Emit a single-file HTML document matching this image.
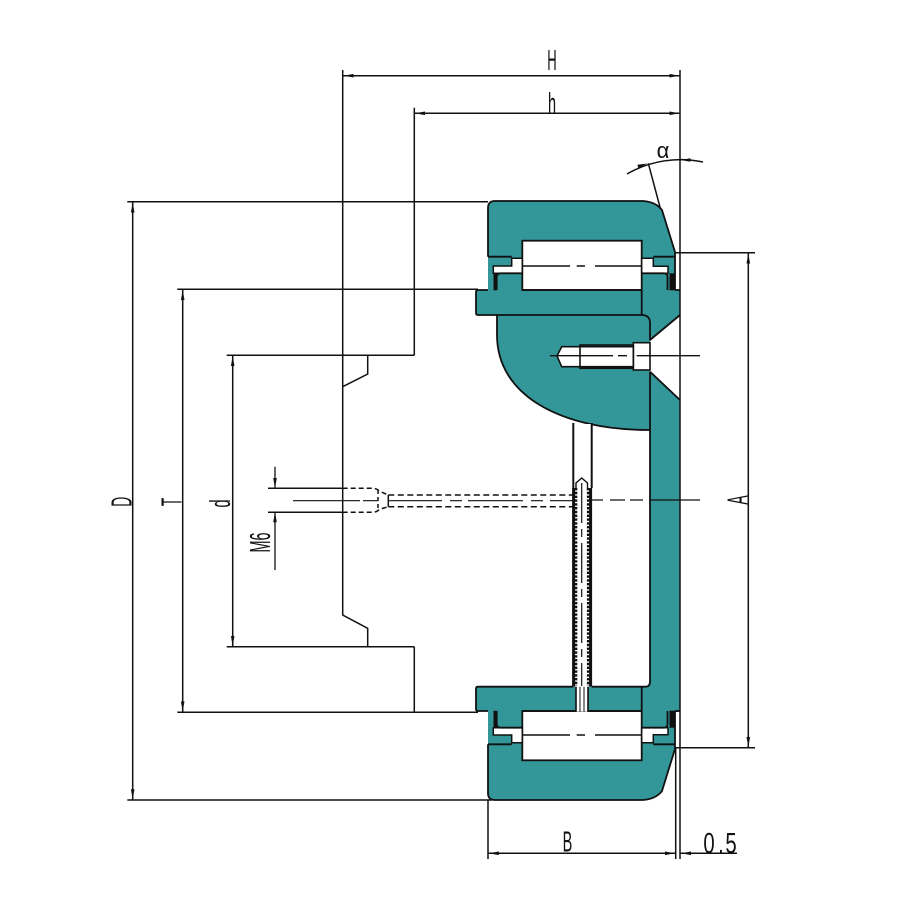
<!DOCTYPE html>
<html><head><meta charset="utf-8"><style>
html,body{margin:0;padding:0;background:#fff;}
svg{display:block}
text{font-family:"Liberation Sans",sans-serif;fill:#111}
</style></head><body>
<svg width="900" height="900" viewBox="0 0 900 900" xmlns="http://www.w3.org/2000/svg">
<rect width="900" height="900" fill="#fff"/>

<g fill="#339699" stroke="none">
  <path d="M495,201 L643,201 Q656,202 662,210 L675,252 L675,290 L680,290 L680,315 L478,315 Q476,315 476,313 L476,292 Q476,290 478,290 L488,290 L488,208 Q488,201 495,201 Z"/>
  <path transform="matrix(1 0 0 -1 0 1001)" d="M495,201 L643,201 Q656,202 662,210 L675,252 L675,290 L680,290 L680,315 L478,315 Q476,315 476,313 L476,292 Q476,290 478,290 L488,290 L488,208 Q488,201 495,201 Z"/>
  <path d="M497,315 L650,315 L650,430 C560,430 497,395 497,335 Z"/>
  <rect x="650" y="315" width="30" height="397"/>
</g>

<polygon points="650,340 680,315 680,400 650,371.7" fill="#fff"/>

<g>
  <g fill="#fff" stroke="#111" stroke-width="1.5">
    <rect x="522.3" y="240.7" width="119.4" height="49.3" stroke-width="1.8"/>
    <polygon points="511.7,258.3 522.3,258.3 522.3,273.3 493.3,273.3 493.3,266 511.7,266"/>
    <polygon points="641.7,258.3 653.3,258.3 653.3,266.3 668,266.3 668,273.3 641.7,273.3"/>
  </g>
  <rect x="493.5" y="273.3" width="3.2" height="17" fill="#111"/>
  <rect x="669.5" y="273.3" width="5.5" height="17" fill="#111"/>
  <g fill="none" stroke="#111" stroke-width="1.8">
    <path d="M488,256.7 L488,208 Q488,201 495,201 L643,201 Q656,202 662,210 L675,252 L675,290"/>
    <path d="M488,256.7 H511.7 M653.3,256.7 H675"/>
    <path d="M496.7,290 V277 Q496.7,273.3 500.5,273.3 H522.3 M641.7,273.3 H664 Q667.5,273.3 667.5,277 V290"/>
    <path d="M488,290 H478 Q476,290 476,292 V313"/>
    <path d="M675,290 H680 M641.7,290 V315"/>
    <path d="M522.3,290 H641.7"/>
  </g>
  <path d="M522.3,266 H570 M576.7,266 H585 M595,266 H641.7" stroke="#111" stroke-width="1.4" fill="none"/>
</g>
<g transform="matrix(1 0 0 -1 0 1001)">
  <g fill="#fff" stroke="#111" stroke-width="1.5">
    <rect x="522.3" y="240.7" width="119.4" height="49.3" stroke-width="1.8"/>
    <polygon points="511.7,258.3 522.3,258.3 522.3,273.3 493.3,273.3 493.3,266 511.7,266"/>
    <polygon points="641.7,258.3 653.3,258.3 653.3,266.3 668,266.3 668,273.3 641.7,273.3"/>
  </g>
  <rect x="493.5" y="273.3" width="3.2" height="17" fill="#111"/>
  <rect x="669.5" y="273.3" width="5.5" height="17" fill="#111"/>
  <g fill="none" stroke="#111" stroke-width="1.8">
    <path d="M488,256.7 L488,208 Q488,201 495,201 L643,201 Q656,202 662,210 L675,252 L675,290"/>
    <path d="M488,256.7 H511.7 M653.3,256.7 H675"/>
    <path d="M496.7,290 V277 Q496.7,273.3 500.5,273.3 H522.3 M641.7,273.3 H664 Q667.5,273.3 667.5,277 V290"/>
    <path d="M488,290 H478 Q476,290 476,292 V313"/>
    <path d="M675,290 H680 M641.7,290 V315"/>
    <path d="M522.3,290 H641.7"/>
  </g>
  <path d="M522.3,266 H570 M576.7,266 H585 M595,266 H641.7" stroke="#111" stroke-width="1.4" fill="none"/>
</g>

<g fill="none" stroke="#111" stroke-width="1.8" stroke-linejoin="round">
  <path d="M476,313 Q476,315 478,315 H641.7 Q650,315 650,323 V340 L680,315"/>
  <path d="M497,315 V335 C497,395 560,430 650,430"/>
  <path d="M650,371.7 L680,400 M650,371.7 V681.7 Q650,686.7 645,686.7 H591.7 M573.3,686.7 H478 Q476,686.7 476,688.7"/>
</g>

<g stroke="#111" stroke-width="1.6">
  <rect x="633.3" y="342.7" width="16.7" height="27.3" fill="#fff"/>
  <rect x="580" y="345" width="53.3" height="23.3" fill="#2a8c8e"/>
  <path d="M633.3,346.7 H561.7 L557,356 L561.7,366.7 H633.3 Z" fill="#fff"/>
  <path d="M580,346.7 V366.7" fill="none"/>
</g>
<path d="M550,355.7 H613 M618,355.7 H627 M636.7,355.7 H700" stroke="#111" stroke-width="1.3" fill="none"/>

<rect x="573.3" y="424" width="18.4" height="263" fill="#fff"/>
<rect x="576" y="686.7" width="12" height="25" fill="#fff"/>
<g fill="none" stroke="#111">
  <path d="M573.3,423 V488 M591.7,423 V488" stroke-width="2"/>
  <path d="M573.6,488 V686.7 M590.6,488 V686.7" stroke-width="3"/>
  <path d="M576,488 V686 M588.2,488 V686" stroke-width="2.6" stroke-dasharray="2.4,1.4"/>
  <path d="M576,490 V483 L581.7,478 L587.5,483 V490" stroke-width="1.4"/>
  <path d="M581.7,483 V686" stroke-width="1.2" stroke-dasharray="40,6,8,6"/>
  <path d="M576,686.7 V711.7 M588,686.7 V711.7" stroke-width="1.6"/>
  <path d="M580,686.7 V711.7 M584,686.7 V711.7" stroke-width="1"/>
</g>

<g fill="none" stroke="#111" stroke-width="1.5">
  <path d="M268,488.3 H342.7 M268,512.3 H342.7"/>
  <path d="M342.7,488.3 H372 Q377,488.3 379,491 L388.3,495 M342.7,512.3 H372 Q377,512.3 379,509.5 L388.3,506.7" stroke-dasharray="5,3"/>
  <path d="M378,490 V511" stroke-dasharray="4,3"/>
  <path d="M388.3,495 V506.7"/>
  <path d="M388.3,495 H573 M388.3,506.7 H573" stroke-dasharray="6,3.5"/>
  <path d="M293,500.7 H360 M363,500.7 H378 M388,500.7 H442 M450,500.7 H462 M468,500.7 H523 M531,500.7 H543 M550,500.7 H573" stroke-width="1.2"/>
  <path d="M592,500 H603 M610,500 H625 M630,500 H643 M650,500 H700" stroke-width="1.3"/>
  <path d="M275,466.7 V488 M275,512.3 V570" stroke-width="1.3"/>
</g>

<g fill="none" stroke="#111" stroke-width="1.5">
  <path d="M342.7,70 V615 L367.7,628.3 V646.7"/>
  <path d="M367.7,355.3 V374 L342.7,386.7"/>
  <path d="M414.3,107.7 V355.3 M414.3,646.7 V712.3"/>
  <path d="M127.3,201.7 H488 M177.3,289.3 H478 M226.7,355.3 H414.3 M226.7,646.7 H414.3 M177.3,712.3 H478 M127.3,800 H492"/>
  <path d="M680,70 V859 M675.7,747 V859 M488,800 V859"/>
  <path d="M675,252.7 H755 M675,747.7 H755 M748.3,253 V747.7"/>
  <path d="M342.7,75.7 H680 M414.3,113.3 H680"/>
  <path d="M132.7,201.7 V800 M182.7,289.3 V712.3 M232.7,355.3 V646.7"/>
  <path d="M488,853.3 H675.7 M680,853.3 H737"/>
  <path d="M648.3,163.3 L660.5,209"/>
  <path d="M627,174 A107,107 0 0 1 703,162"/>
</g>

<g fill="#111">
  <polygon points="343.5,75.7 353.5,73.9 353.5,77.5"/>
  <polygon points="679.5,75.7 669.5,73.9 669.5,77.5"/>
  <polygon points="415,113.3 425,111.5 425,115.1"/>
  <polygon points="679.5,113.3 669.5,111.5 669.5,115.1"/>
  <polygon points="132.7,202.5 130.9,212.5 134.5,212.5"/>
  <polygon points="132.7,799.2 130.9,789.2 134.5,789.2"/>
  <polygon points="182.7,290 180.9,300 184.5,300"/>
  <polygon points="182.7,711.5 180.9,701.5 184.5,701.5"/>
  <polygon points="232.7,356 230.9,366 234.5,366"/>
  <polygon points="232.7,646 230.9,636 234.5,636"/>
  <polygon points="748.3,253.5 746.5,263.5 750.1,263.5"/>
  <polygon points="748.3,747 746.5,737 750.1,737"/>
  <polygon points="488.8,853.3 498.8,851.5 498.8,855.1"/>
  <polygon points="675,853.3 665,851.5 665,855.1"/>
  <polygon points="681,853.3 691,851.5 691,855.1"/>
  <polygon points="275,488 273.2,478 276.8,478"/>
  <polygon points="275,512.3 273.2,522.3 276.8,522.3"/>
  <polygon points="647.5,163.5 638.4,168.2 637.4,164.8"/>
  <polygon points="680.5,160 690.5,158.2 690.5,161.8"/>
</g>

<g font-size="29" text-anchor="middle">
  <text transform="translate(552,70) scale(0.45,1)">H</text>
  <text transform="translate(552,113) scale(0.5,1)">h</text>
  <text transform="translate(567.5,851.5) scale(0.5,1)">B</text>
  <text transform="translate(709,853) scale(0.7,1)">0</text>
  <text transform="translate(721,853) scale(0.7,1)">.</text>
  <text transform="translate(731,853) scale(0.7,1)">5</text>
  <text transform="translate(131.5,501.7) rotate(-90) scale(0.48,1)">D</text>
  <text transform="translate(181.5,502) rotate(-90) scale(0.47,1)">T</text>
  <text transform="translate(230,503.5) rotate(-90) scale(0.5,1)">d</text>
  <text transform="translate(747.5,500) rotate(-90) scale(0.48,1)">A</text>
  <text transform="translate(270,542.5) rotate(-90) scale(0.5,1)">M6</text>
</g>
<text x="663" y="158" font-size="22" text-anchor="middle">α</text>
</svg>
</body></html>
